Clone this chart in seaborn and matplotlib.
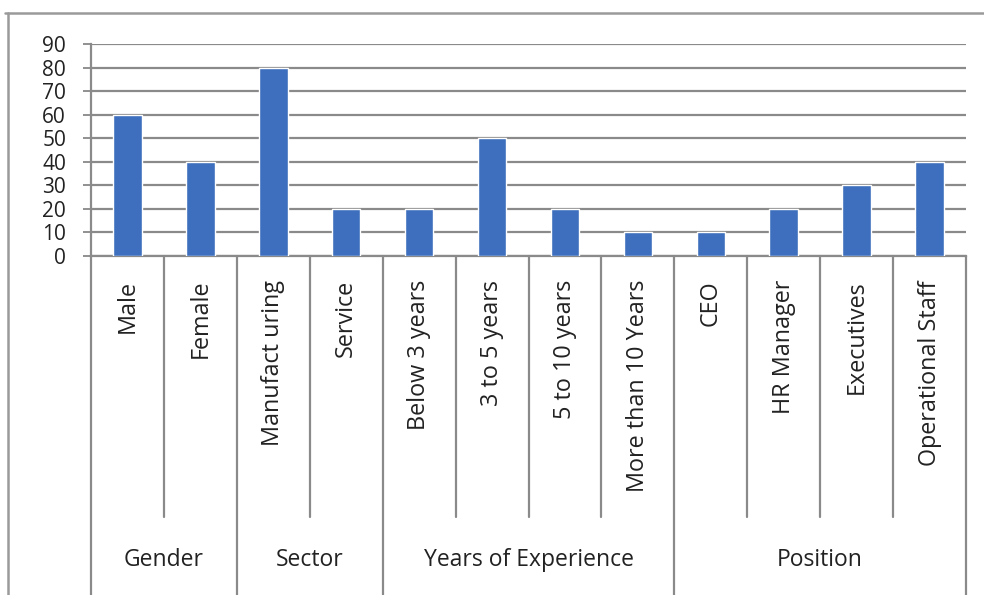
import matplotlib
matplotlib.use("Agg")
import matplotlib.pyplot as plt
import matplotlib.transforms as mtransforms
from matplotlib.lines import Line2D
import seaborn as sns
import pandas as pd

# Survey respondent profile: count of respondents in each category
groups = ["Gender", "Sector", "Years of Experience", "Position"]
group_sizes = [2, 2, 4, 4]
categories = ["Male", "Female", "Manufact uring", "Service",
              "Below 3 years", "3 to 5 years", "5 to 10 years", "More than 10 Years",
              "CEO", "HR Manager", "Executives", "Operational Staff"]
values = [60, 40, 80, 20, 20, 50, 20, 10, 10, 20, 30, 40]
y_ticks = [0, 10, 20, 30, 40, 50, 60, 70, 80, 90]

sns.set_theme(style="white")
plt.rcParams["font.family"] = ["Open Sans", "DejaVu Sans"]

W, H = 984, 595
fig = plt.figure(figsize=(W / 100, H / 100), dpi=100)
fig.patch.set_facecolor("white")

# axes placed in pixel terms
ax_l, ax_r, ax_t, ax_b = 91, 966, 44, 256
ax = fig.add_axes([ax_l / W, 1 - ax_b / H, (ax_r - ax_l) / W, (ax_b - ax_t) / H])

df = pd.DataFrame({"category": categories, "value": values})
sns.barplot(data=df, x="category", y="value", color="#3D6FBE", saturation=1,
            width=0.39, ax=ax, zorder=3)

ax.set_ylim(0, 90)
ax.set_xlim(-0.5, len(categories) - 0.5)
ax.set_yticks(y_ticks)
ax.set_yticklabels([str(t) for t in y_ticks], fontsize=15, color="#222222")
ax.tick_params(axis="y", which="major", direction="out", length=6, width=1.3,
               color="#888888", pad=12, left=True)
ax.tick_params(axis="x", bottom=False, labelbottom=False)
ax.set_xlabel("")
ax.set_ylabel("")
ax.yaxis.grid(True, color="#8a8a8a", linewidth=1.6, zorder=0)
ax.set_axisbelow(True)
for side in ["top", "right"]:
    ax.spines[side].set_visible(False)
for side in ["left", "bottom"]:
    ax.spines[side].set_color("#8a8a8a")
    ax.spines[side].set_linewidth(1.6)

# multi-level category axis drawn below the plot
trans = mtransforms.blended_transform_factory(ax.transData, ax.transAxes)
px = 1.0 / (ax_b - ax_t)
y_cat_end = -(517 - ax_b) * px
y_bottom = -(H - ax_b) * px
y_cat_label = -(280 - ax_b) * px
y_grp_label = -(560 - ax_b) * px

sep_kw = dict(color="#8a8a8a", linewidth=1.6, clip_on=False, transform=trans)
ax.plot([-0.5, -0.5], [0, y_bottom], **sep_kw)
ax.plot([len(categories) - 0.5] * 2, [0, y_bottom], **sep_kw)

for i, name in enumerate(categories):
    ax.text(i, y_cat_label, name, rotation=90, ha="center", va="top",
            fontsize=16.8, color="#222222", transform=trans)

start = 0
for g, size in zip(groups, group_sizes):
    for k in range(1, size):
        xs = start + k - 0.5
        ax.plot([xs, xs], [0, y_cat_end], **sep_kw)
    end = start + size
    if end < len(categories):
        ax.plot([end - 0.5, end - 0.5], [0, y_bottom], **sep_kw)
    ax.text((start + end - 1) / 2, y_grp_label, g, ha="center", va="center",
            fontsize=16.5, color="#222222", transform=trans)
    start = end

# chart frame
frame_kw = dict(color="#9a9a9a", linewidth=1.8, transform=fig.transFigure)
fig.add_artist(Line2D([5 / W, 1.0], [1 - 13 / H] * 2, **frame_kw))
fig.add_artist(Line2D([8 / W] * 2, [1 - 13 / H, 0.0], **frame_kw))

fig.savefig("out.png", dpi=100, facecolor="white")
